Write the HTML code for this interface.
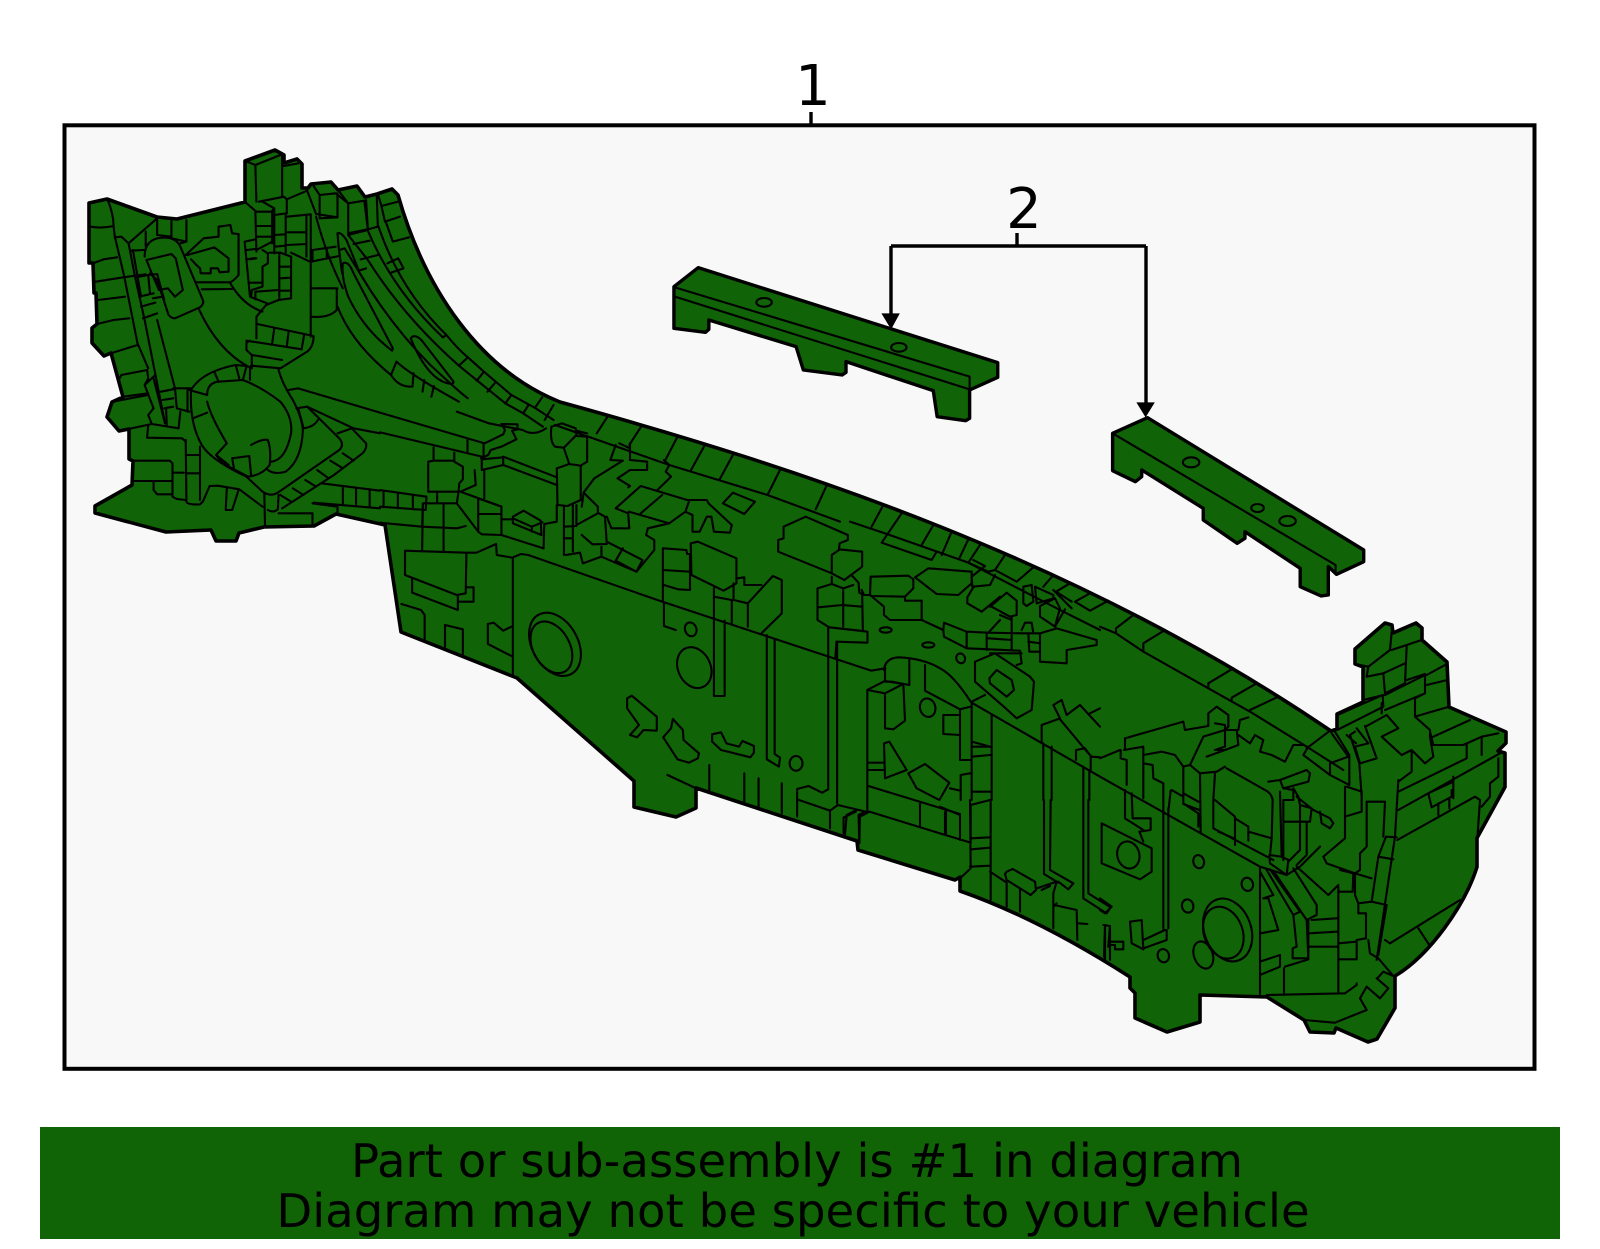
<!DOCTYPE html>
<html><head><meta charset="utf-8"><style>
html,body{margin:0;padding:0;background:#fff;width:1600px;height:1249px;overflow:hidden}
svg{display:block}
.l path,.l ellipse{fill:none;stroke:#000;stroke-width:2.1;vector-effect:non-scaling-stroke;stroke-linejoin:round;stroke-linecap:round}
.o{stroke:#000;stroke-width:3.6;fill:#106306;stroke-linejoin:round}
.a{fill:#000}
text{font-family:"DejaVu Sans","Liberation Sans",sans-serif;fill:#000}
</style></head><body>
<svg width="1600" height="1249" viewBox="0 0 1600 1249" xmlns="http://www.w3.org/2000/svg">
<rect x="64.5" y="125.3" width="1470" height="943.5" fill="#f8f8f8" stroke="#000" stroke-width="4"/>
<path d="M811 112V125M1017 233V246M891 246H1146M891 246V316M1146 246V405" fill="none" stroke="#000" stroke-width="3.4"/>
<text x="813" y="105" font-size="56" text-anchor="middle">1</text>
<text x="1024" y="228" font-size="56" text-anchor="middle">2</text>
<rect x="40" y="1127" width="1520" height="112" fill="#116406"/>
<text x="797" y="1177" font-size="46.6" text-anchor="middle">Part or sub-assembly is #1 in diagram</text>
<text x="793" y="1227" font-size="46.6" text-anchor="middle">Diagram may not be specific to your vehicle</text>

<path class="o" d="M89 203L107 199L157 217L177 219L245 202L245 161L275 150L284 155L284 163L297 159L302 164L302 188L308 188L311 184L331 182L338 190L357 186L365 197L377 194L392 189L398 195C425 290 480 370 560 402C800 468 1080 560 1331 731L1337 729L1337 714L1363 702L1363 667L1355 664L1355 649L1385 623L1392 625L1393 633L1416 623L1422 628L1422 640L1447 662L1449 707L1506 732L1506 743L1498 751L1505 753L1505 787L1477 838L1477 867C1465 905 1430 955 1395 976L1395 1008L1377 1039L1368 1042L1336 1028L1334 1033L1310 1032L1304 1020L1267 997L1200 995L1200 1022L1167 1032L1135 1018L1135 993L1130 988L1130 977C1080 945 1020 912 960 891L960 877L955 880L858 850L857 841L696 788L696 808L676 817L634 807L634 781L517 678L401 632L385 525L336 514L314 526L264 527L239 533L236 541L216 541L211 530L166 532L95 513L95 506L132 485L133 461L129 459L129 429L119 431L107 417L112 402L123 397L111 353L104 356L92 343L92 328L97 324L96 293L94 293L93 263L89 263Z"/>

<!-- Region 1 -->
<g class="l" transform="translate(0,100) scale(.35714,.33333)">
<path d="M685 182L715 195L785 165M715 195L718 305M790 165L790 290M795 198L835 190M685 305L718 335L760 335L768 325L735 305M725 305L795 290L803 298L803 340L768 345L768 325"/>
<path d="M715 335L718 455M718 378L762 378M718 410L762 410M718 450L762 425M762 335L762 430M768 345L768 460M768 405L800 403M768 440L800 437M800 345L800 458M803 298L860 272M803 350L870 343M858 345L858 470M805 397L858 397M805 435L858 432"/>
<path d="M785 458L815 470L815 595L780 600L745 615M785 500L815 500M785 535L815 533M785 572L815 572M782 458L782 598M755 458L780 458M735 450L750 460L750 490L735 500L735 560L705 570L703 592M685 425L715 418M685 425L700 590L748 610M690 450L715 447M692 478L715 474M718 475L700 478M700 548L730 548M715 575L780 570M715 575L715 598M815 458L868 485M860 272L885 342L945 352M870 345L870 710M875 450L940 440M875 450L875 485M915 445L915 472M870 485L950 468M872 565L945 565M872 650Q920 655 943 630L943 565"/>
<path d="M300 296Q318 340 318 378Q285 386 255 380M318 378L322 415M322 412L340 410L360 430L440 355M440 360L440 405M480 362L480 415M522 360L522 425M408 395L408 440M440 405L480 410M480 415L522 425L505 430"/>
<path d="M405 470Q405 425 440 415Q490 405 505 440L568 600Q572 612 560 622L490 655Q480 655 472 645L440 540L420 520M410 480L480 462L492 475L512 570L490 590L470 565L445 570L425 520L410 480"/>
<path d="M322 412L348 530L385 730L415 805M360 430L378 530L405 660L462 970M368 452L403 450M372 450L395 590M440 660L490 865M400 655L440 640M395 620L435 608M390 590L430 580M380 532L415 525L420 580M415 525L440 522L460 600M428 595L455 590"/>
<path d="M260 490L290 478L328 472M268 545L345 532L408 523M275 600L350 590M272 672L318 660L362 655M310 760L385 735M340 825L412 810L415 835L405 855L430 925L415 945L425 972M340 825L332 840M345 890L415 880M315 905L415 885M333 993L425 972L500 985M405 855L435 825M430 835L462 970"/>
<path d="M415 975L412 1013L510 1015L520 1025M372 1082L475 1082L483 1090L483 1190L495 1197L520 1200M430 1145L430 1170L440 1183L483 1183M370 1143L483 1143M483 1118L515 1118M522 1065L560 1065M522 1120L560 1120M520 1020L522 1205Q525 1215 560 1213L568 1205L587 1158L610 1157L670 1168L735 1220M635 1165L632 1230L650 1230L668 1170M560 1040L560 1200"/>
<path d="M485 865L535 865M450 875L485 868M455 900L485 895M460 925L485 920M490 865L495 925L530 935M465 925L467 975M500 985L505 935M525 870L525 935"/>
<path d="M535 870Q565 815 660 795L690 798M530 870L580 885M600 815L612 845M660 795L670 835M690 800L680 840M535 870Q530 970 565 1035Q590 1080 690 1130L735 1175Q755 1190 775 1180L950 1050Q965 1035 950 1015L860 920L830 925"/>
<path d="M580 885Q580 850 610 845L680 840Q730 860 785 905Q820 950 815 1000Q800 1080 760 1085M580 905Q590 950 635 1030L605 1065Q620 1090 650 1105M540 955L580 938M605 1065L640 1095M650 1075L698 1068L703 1125M650 1075L655 1105M703 1035Q735 1015 750 1020Q760 1050 755 1095Q735 1125 695 1130L650 1105M750 1110Q770 1125 800 1115Q845 1080 848 990Q845 950 820 900Q790 850 780 810M700 800L700 840M705 770L705 805"/>
<path d="M745 615L718 650L718 715M720 672L878 708Q878 740 860 755L785 805L703 797M768 685L762 730M808 695L803 740M852 702L845 745M700 722L690 728L690 750L705 765L790 780M690 722L845 748M558 630Q610 750 695 800M645 550Q680 615 735 635"/>
<path d="M520 465L570 415L612 410L612 380L645 375L650 400L668 402L668 525Q650 548 640 547L550 547M565 568L650 567M525 465L600 442L640 475L640 515L615 517L610 505L590 505L590 520L562 520L560 505L550 495L535 478"/>
<path d="M808 870L835 865L1064 938M860 920L990 985L1064 1000M835 925L850 985Q880 980 890 960M945 1000L985 985L1025 1030Q1028 1045 1015 1060L935 1125L790 1225M925 1082L960 1105M888 1110L920 1135M855 1140L885 1160M820 1165L850 1185M785 1185L815 1205M960 1060L990 1082M740 1180L742 1275M780 1185L778 1228Q765 1240 750 1230M780 1240L875 1240L875 1275M875 1210L945 1220L945 1240M878 1208L1064 1225M900 1150L1064 1172M960 1160L960 1212M997 1165L997 1215M1035 1172L1035 1218"/>
<path d="M885 350Q915 470 960 565M895 285L940 280L975 310L1020 302M878 258L895 285L895 355L945 352L945 280M948 272L975 310L975 400L1030 388L1020 302M1025 300L1030 388L1058 380L1055 290M1058 282L1068 318L1115 305M1068 318L1078 365L1120 350M1080 365L1100 425L1145 412M975 405L1030 390M990 432L1035 422M1010 478L1058 465M1085 490L1115 475L1130 505L1095 518"/>
<path d="M945 400Q955 395 970 420L1005 512L1025 505M950 450L965 445L1005 515M945 400L948 440L958 520M960 490Q975 480 990 520L1100 745L1098 752Q1020 690 975 590Q955 530 960 490Z"/>
<path d="M1060 380Q1120 570 1250 705M1030 392Q1100 570 1240 712L1250 705M975 405L1030 480Q1130 650 1285 797L1340 845L1415 910L1465 940L1520 980M1250 705Q1280 745 1310 772L1355 815L1432 885L1500 925L1550 960M1005 515Q1090 670 1205 795Q1290 880 1310 895M945 620Q985 730 1095 825M1110 785L1095 825Q1115 860 1150 860M1158 820L1155 860M1188 840L1183 875M1215 858L1208 890M1110 785Q1150 825 1285 905"/>
<path d="M1150 715Q1160 700 1180 720L1270 845Q1270 858 1240 845Q1190 820 1150 715ZM1310 772L1285 797M1355 815L1335 842M1385 850L1365 875M1432 885L1415 910M1480 915L1465 940M1518 892L1500 920M1550 915L1525 960"/>
</g>

<!-- Region 2 -->
<g class="l" transform="translate(380,400) scale(.35714,.33333)">
<path d="M0 38L293 130L345 103L350 90L340 72L385 73L385 88L370 92L382 118L340 140L310 150L303 165L283 175M0 97L285 170M245 120L245 155M290 130L290 175M285 175L285 210L345 195L345 172L285 178M292 210L292 295M215 35L305 70L400 90Q430 110 465 85"/>
<path d="M150 142L150 182L135 185L135 275L220 275L222 250L232 238L232 200L208 185L208 158M150 182L205 182M265 210L268 255L225 275L340 320M160 275L160 305M220 275L215 310L120 310L118 380M0 270L130 290L128 330L0 320M10 275L10 322M50 282L50 325M92 288L92 328M120 310L118 450M178 310L178 452M118 380L215 385L240 378M0 368L118 380"/>
<path d="M215 310L275 395L285 403L340 405L458 445M275 295L340 320L340 405M275 295L275 395M275 342L340 342M70 452L240 458L270 458L325 432L327 465L370 473L395 462L415 465L790 605M70 452L70 525L215 585L240 580L242 458M90 535L90 578L218 630L218 585M220 605L262 605L262 562L245 562M372 475L372 825"/>
<path d="M60 612L115 630L125 645L125 718M182 675L182 740M182 675L232 688L232 765M302 672L318 668L345 692L368 680M302 672L302 732L368 768"/>
<ellipse cx="490" cy="733" rx="65" ry="100" transform="rotate(-25 490 733)"/><ellipse cx="480" cy="742" rx="52" ry="82" transform="rotate(-25 480 742)"/>
<path d="M345 170L495 232M345 195L495 255M495 205L530 192L562 197L562 300L525 318L497 315L495 205M495 315L495 365L460 372L458 445M342 358L372 358M372 350L402 332L450 362L452 405L372 370ZM372 355L425 380L455 367M425 380L425 395"/>
<path d="M480 80L510 70L548 85L550 105L515 143L490 140Q475 125 480 80M515 145L530 192M550 108L580 110L580 185L562 197M550 92L580 100M607 100L637 50M698 135L730 82M800 178L832 112M870 212L908 138M950 240L988 165M1085 285L1120 210M1220 328L1250 258M490 75L810 195L1085 285L1288 365"/>
<path d="M660 135L645 180L680 182L600 235L570 278L610 320L610 340L550 375L550 315M570 278L565 320M515 318L515 465M540 315L540 455M515 380L550 378M515 415L540 415M520 465L560 458L568 490M565 405L595 433L635 432L630 350L610 338M635 425L735 480L718 515L660 482L680 445M620 440L620 470L568 490M620 470L718 515"/>
<path d="M635 350L648 385L698 385L695 340L660 325L730 258L860 300L915 300L920 310L985 375L980 398L935 395L928 350L915 350L895 395L875 395L875 345L855 335L865 305M700 130L700 180L748 185L748 210L700 210L665 235L700 258L695 262M670 130L700 145M795 180L810 195L800 215L815 230L775 272M790 285L730 340M697 335L810 370L750 385L745 405L768 420L768 450L718 515M810 370L855 335"/>
<path d="M960 310L988 278L1050 305L1020 342Z"/>
<path d="M1115 455L1115 420L1130 415L1130 380L1192 350L1310 405L1310 420L1287 430L1285 448L1350 455L1350 500L1300 540L1265 520L1115 455M1265 465L1285 450M1265 465L1265 520M1320 525L1340 548L1342 578L1355 585L1370 585M1265 530L1265 552L1297 565L1325 555M1265 552L1225 565L1225 660L1258 682L1345 692M1297 565L1297 680M1228 622L1295 615L1350 620M1350 580L1352 692M1258 682L1365 695L1365 728L1278 725L1275 775M1255 682L1255 768"/>
<path d="M792 605L792 445L858 450L860 462L868 462L868 570L835 568L795 555M792 510L868 515M870 430L890 425L998 475L998 550L962 572L872 525ZM935 565L935 650M990 550L990 600L1030 610M935 590L985 600L985 670M1000 535L1020 532L1020 555L1068 555M1030 610L1100 528L1125 540L1125 640L1068 700M1030 610L1030 680"/>
<path d="M795 610L795 678L828 690"/>
<ellipse cx="870" cy="688" rx="16" ry="21" transform="rotate(-15 870 688)"/><ellipse cx="880" cy="803" rx="46" ry="63" transform="rotate(-20 880 803)"/><ellipse cx="1165" cy="1090" rx="18" ry="22"/>
<path d="M935 650L935 888L965 888L965 662M1083 705L1083 1078L1117 1100L1120 1073L1105 1062L1105 718M1255 768L1255 1168L1238 1178L1200 1158L1168 1167L1168 1250M1280 725L1280 1210M1168 1198L1260 1232L1282 1215L1360 1235M1260 1232L1260 1285M1300 1252L1332 1235M1298 1252L1298 1300M805 1125L885 1165M922 1095L922 1170M1020 1120L1020 1205M1060 1135L1060 1220M1125 1150L1125 1240M1360 1235L1340 1245L1342 1325M790 605L1375 812L1415 805"/>
<path d="M692 895L705 887L775 950L775 992L738 990L720 1012L700 1005L725 975L692 925ZM820 957L848 990L850 1020L893 1060L890 1075L865 1088L833 1078L793 1012L815 985ZM930 1003L955 997L970 1030L1005 1040L1015 1023L1047 1038L1047 1058L1037 1072L955 1050L930 1025Z"/>
</g>

<!-- Region 3 -->
<g class="l" transform="translate(840,480) scale(.33333)">
<path d="M30 125L135 160L385 248L660 390L780 450M130 75L95 140M185 100L125 188L275 240L288 218M280 135L245 195M335 155L305 225M385 178L358 235M420 195L385 248M495 225L465 270L530 305L580 262M640 285L610 320M690 310L648 335L695 365M750 340L705 365L750 392M805 362L750 392"/>
<path d="M385 248L445 275L465 270M400 240L435 258L395 290L397 320L450 315L465 285M225 292L265 265L395 275L395 310L355 345L290 342L225 292M92 290L205 287L220 298L220 325L195 350L195 362L245 362L245 420L150 420L132 405L132 380L90 345L92 290M92 348L195 350M65 330L72 345L92 345M400 322L382 352L382 370L425 395L480 350M455 380L510 410L530 405L530 362L500 338L450 380"/>
<path d="M245 420L310 450L312 428L380 455L380 505L312 470L310 450M380 455L445 458L545 460L600 460L650 445L770 480L770 495L680 510L680 550L600 545L600 460M440 458L440 510M380 505L540 512L545 550L530 555M515 410L515 512M480 405L515 420M445 475L515 480M565 485L600 490M565 460L568 515L600 515M545 450L555 428L575 428L580 460M445 458L480 420M550 320L575 315L580 365L560 378L550 370ZM585 320L640 345L640 355L590 370ZM600 378L645 355L660 385L650 420L645 440L600 410ZM640 330L695 385M675 388L645 440"/>
<ellipse cx="137" cy="450" rx="18" ry="8"/><ellipse cx="265" cy="495" rx="18" ry="8"/><ellipse cx="362" cy="535" rx="13" ry="15" transform="rotate(-25 362 535)"/>
<path d="M405 545L405 605L495 683L530 715L575 690L582 605L570 590L465 520L405 545M448 595L470 570L515 600L522 630L500 650L450 610ZM450 520L545 520M395 665L435 645M132 570Q135 535 175 532Q250 535 300 565Q340 585 392 665M208 540L208 615L155 605L138 605M135 560L135 605M395 668L780 890"/>
<path d="M255 555L255 632L360 688L392 680M360 688L360 840L390 840M310 705L355 705M310 705L310 762L360 765"/>
<ellipse cx="263" cy="683" rx="23" ry="28" transform="rotate(-15 263 683)"/>
<path d="M82 630L135 603L190 612L135 640L82 630M135 640L135 745L160 748L195 722L190 612M82 630L82 995M85 848L130 848M85 870L132 870M132 790L148 785L200 870L135 895ZM205 880L255 852L328 908L298 960L230 925L205 880M330 925L360 932M85 918L360 1002M240 970L240 1038M315 995L315 1060M300 1060L88 995L60 1010L58 1090M362 885L390 880M362 885L362 960M20 1005L15 1065M20 1005L50 990M395 670L395 960M455 705L455 960M395 800L450 800M395 785L450 800M395 830L450 825M395 935L450 935"/>
<path d="M605 785L605 735L660 715L640 675L665 660L680 705L720 675L780 740M660 718L720 790L745 820L755 830L780 832M708 840L708 810L735 805L752 828L752 870M610 790L610 960M635 800L635 960M730 860L730 960M748 870L748 960M750 700L780 685"/>
</g>

<!-- Region 7 (bottom middle) -->
<g class="l" transform="translate(940,800) scale(.33333)">
<path d="M0 20L60 45M18 30L18 100M60 45L60 120M0 100L92 128L92 15L150 0M90 0L92 205L60 235M95 115L150 112M95 148L150 143M90 200L150 197M152 0L152 300M150 215L200 248L200 320M240 268L240 335M200 215L218 207L285 245L288 270L272 285L200 240L195 222ZM290 265L350 245L340 280L340 385M305 270L330 258M355 245L385 268L400 250L330 210L332 0M312 0L312 222L355 248M430 0L430 295L500 340L512 322L445 280L445 0M343 315L410 330L412 420M415 370L442 372M340 320L350 310M490 375L510 378L505 440M495 378L492 470"/>
</g>

<!-- Region 4 -->
<g class="l" transform="translate(1100,600) scale(.33333)">
<path d="M100 45L48 85L48 100M195 90L130 130L130 155M0 80L48 100L130 155L325 265L450 335L620 440L730 510M400 205L325 250L325 265M470 250L395 293L395 305M535 290L450 330L450 335M620 445L690 392M625 440L610 465L690 525L690 490L745 470L695 400M705 395L748 465L748 555L690 525M712 390L850 320L848 285L712 345"/>
<path d="M790 300L850 285M765 192L805 200L870 150L875 95M875 150L965 120M805 200L800 230L850 220L855 280L915 250L920 140M850 220L915 190M920 240L975 222L975 280L855 330M855 285L975 225M980 225L1035 195M980 255L1042 240M975 280L945 295L945 350L1048 320M945 350L990 390L990 410L1000 470L975 490L935 450L905 465L845 410L895 385L860 345L800 378M845 310L845 340M1000 410L1110 360M990 395L1000 435L1090 435L1145 410L1195 400M1090 435L1100 430L1100 475L895 575M1145 410L1145 465M1200 460L895 630M1195 475L1195 530L1170 550L1170 590L1145 620M1060 530L1060 595M985 580L1060 545M985 580L995 622L1055 590L1055 570M1015 610L1015 645M1048 595L1048 625M895 545L935 515L935 450M895 540L885 710L830 1080"/>
<path d="M892 720L1125 590L1140 600L1132 715M855 1020L870 1030L1080 900M955 985L988 1035"/>
<path d="M795 378L830 475L780 490L765 440L805 430L770 385M765 395L750 405L778 490L785 590M740 405L768 430M740 560L785 575L785 635L735 650M735 560L735 715L670 770L680 790L765 820L780 810L780 760L800 740L800 605L855 605L850 710M890 712L858 710L835 770L880 778M835 770L815 905L860 915L835 1065M765 820L765 885L775 910L815 905M765 820L815 835M720 810L760 820L758 875L715 875M775 910L775 940L798 940L798 1015L770 1020L770 1075M715 1030L770 1025M715 1078L770 1078M715 860L715 1180M628 1040L710 1040M628 1000L710 995M635 960L710 955M770 1150L770 1155L735 1180L500 1185M805 1020L810 1060L835 1075L880 1128M832 1135L850 1115L880 1128M830 1135L865 1165L840 1195L800 1160L780 1195L800 1230L705 1268M612 1260L703 1268"/>
<path d="M480 800L480 1190M480 815L520 885L490 895M500 810L580 945L600 935L510 808M520 812L620 960L650 945L650 915L580 805M590 800L685 885L715 855M560 825L600 800L660 740M490 895L505 895L535 990L482 1000M580 945L590 1040L578 1045L578 1075L625 1075L620 960M625 960L625 1078L555 1100M480 1085L540 1065L540 1100L480 1125M552 1105L552 1185"/>
<path d="M0 530L480 800L560 825"/>
<ellipse cx="296" cy="785" rx="16" ry="20" transform="rotate(-15 296 785)"/><ellipse cx="442" cy="853" rx="17" ry="20" transform="rotate(-15 442 853)"/><ellipse cx="263" cy="918" rx="17" ry="20" transform="rotate(-15 263 918)"/><ellipse cx="190" cy="1067" rx="17" ry="20" transform="rotate(-15 190 1067)"/><ellipse cx="310" cy="1065" rx="28" ry="42" transform="rotate(-20 310 1065)"/><ellipse cx="383" cy="990" rx="70" ry="97" transform="rotate(-20 383 990)"/><ellipse cx="370" cy="998" rx="58" ry="80" transform="rotate(-20 370 998)"/><ellipse cx="85" cy="765" rx="33" ry="41" transform="rotate(-15 85 765)"/>
<path d="M190 640L190 990M205 625L205 985M212 572L205 635M215 570L250 590L250 612L298 630M5 670L155 745L155 815L120 838L5 790ZM72 450L130 440L130 595M62 450L62 475L80 480L80 555M75 415L75 445M75 415L250 365L255 390L325 378L325 340L350 320L385 345L385 380L375 390L415 390L420 360L445 352M130 465L185 455L225 465L250 500L270 495L310 410L375 390M130 490L158 495L160 535L190 550L190 640M250 500L250 610L295 640L295 680M270 495L300 520L350 515L375 500M300 520L302 700M320 470L375 450M345 520L340 600L340 685L520 780M345 600L405 650L405 735M250 580L295 605M355 695L402 715M445 695L445 722M405 655L445 680L445 695L515 715M380 505L495 570Q515 580 518 600L515 715L510 765M540 575L545 770M545 770L508 765L510 790L560 825L565 780L545 770"/>
<path d="M505 545L540 540L620 510L630 520L625 545L550 565L540 540M550 565L580 570L580 600L550 600L550 665L630 665L635 625L600 615L595 590L580 565M600 620L600 750L565 785M620 665L620 765L590 795M550 670L550 780M590 590L640 630L690 655L700 670L690 685L665 670L660 635M415 405L450 430L465 405L490 420L480 455L515 465L555 485L580 435L610 435M345 370L375 375L375 440L345 450L375 450L415 435L410 390M60 450L0 475"/>
<path d="M75 570L75 655L130 690M95 580L98 655L152 655L152 690L118 695L130 725M0 895L35 920L15 940L0 930M15 975L15 1080M30 980L30 1080M30 1025L70 1025L70 1048L45 1048L45 1035L30 1035M90 965L125 960L130 1048L95 1030L90 965M130 1020L195 990M130 1045L200 1020L200 990"/>
</g>

<!-- Brackets -->
<g transform="translate(640,170) scale(.48473,.33333)">
<path d="M70 350L120 293L738 578L738 622L680 660L680 745L672 752L613 740L605 662L425 575L425 607L417 615L337 600L322 530L142 450L142 478L135 487L70 475Z" fill="#106306" stroke="#000" stroke-width="3.4" vector-effect="non-scaling-stroke" stroke-linejoin="round"/>
<path d="M975 790L1047 743L1493 1140L1493 1175L1437 1213L1420 1190L1420 1275L1405 1278L1362 1250L1362 1195L1248 1085L1248 1105L1232 1120L1162 1050L1162 1015L1035 900L1035 920L1022 935L975 902Z" fill="#106306" stroke="#000" stroke-width="3.4" vector-effect="non-scaling-stroke" stroke-linejoin="round"/>
<g class="l">
<path d="M72 352L680 620L680 660M72 380L680 658M975 790L1435 1185L1435 1213"/>
<ellipse cx="256" cy="397" rx="16" ry="13"/><ellipse cx="534" cy="532" rx="16" ry="13"/><ellipse cx="1137" cy="877" rx="17" ry="15"/><ellipse cx="1274" cy="1014" rx="13" ry="12"/><ellipse cx="1336" cy="1053" rx="17" ry="15"/>
</g>
<polygon class="a" points="498,430 536,430 518,478"/>
<polygon class="a" points="1024,697 1062,697 1043,742"/>
</g>
</svg>
</body></html>
